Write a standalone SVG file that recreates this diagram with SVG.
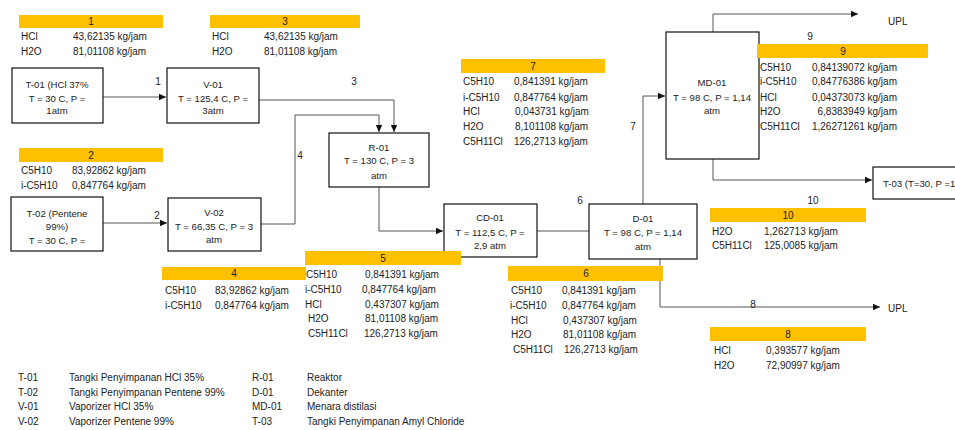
<svg xmlns="http://www.w3.org/2000/svg" width="955" height="430" viewBox="0 0 955 430">
<defs>
<marker id="arr" markerUnits="userSpaceOnUse" markerWidth="8" markerHeight="8" refX="7" refY="4" orient="auto"><path d="M0,0.8 L7,4 L0,7.2 Z" fill="#111"/></marker>
<style>
text{font-family:"Liberation Sans",Arial,sans-serif;fill:#222;font-size:10px}
.bx{fill:#fff;stroke:#111;stroke-width:1.2}
.bt{font-size:9.6px;text-anchor:middle}
.bar{fill:#FFC000}
.bn{text-anchor:middle;font-size:10px}
.c{fill:none;stroke:#555;stroke-width:1}
.a{marker-end:url(#arr)}
.lbl{font-size:10px;text-anchor:middle}
</style>
</defs>
<rect width="955" height="430" fill="#fff"/>

<g id="connectors">
<path class="c a" d="M103,97 H166"/>
<path class="c a" d="M103,223 H167"/>
<path class="c a" d="M259,100 H394 V132"/>
<path class="c a" d="M261,224 H295 V115 H379 V132"/>
<path class="c a" d="M379,187 V231 H443"/>
<path class="c" d="M537,231 H589"/>
<path class="c a" d="M643,204 V96 H665"/>
<path class="c a" d="M713,32 V14 H858"/>
<path class="c a" d="M713,159 V180 H872"/>
<path class="c a" d="M660,259 V307 H880"/>
<text class="lbl" x="158" y="85">1</text>
<text class="lbl" x="157" y="219">2</text>
<text class="lbl" x="354" y="85">3</text>
<text class="lbl" x="300" y="159">4</text>
<text class="lbl" x="580" y="204">6</text>
<text class="lbl" x="633" y="130">7</text>
<text class="lbl" x="753" y="308">8</text>
<text class="lbl" x="810" y="40">9</text>
<text class="lbl" x="813" y="204">10</text>
<text x="888" y="25">UPL</text>
<text x="888" y="312">UPL</text>
</g>

<g id="T-01"><rect class="bx" x="12" y="68" width="91" height="55"/>
<text class="bt" x="57" y="88">T-01 (HCl 37%</text><text class="bt" x="57" y="102">T = 30 C, P =</text><text class="bt" x="57" y="114">1atm</text></g>
<g id="V-01"><rect class="bx" x="167" y="68" width="92" height="55"/>
<text class="bt" x="213" y="88">V-01</text><text class="bt" x="213" y="102">T = 125,4 C, P =</text><text class="bt" x="213" y="114">3atm</text></g>
<g id="T-02"><rect class="bx" x="11" y="197" width="92" height="54"/>
<text class="bt" x="57" y="217">T-02 (Pentene</text><text class="bt" x="57" y="230">99%)</text><text class="bt" x="57" y="244">T = 30 C, P =</text></g>
<g id="V-02"><rect class="bx" x="168" y="198" width="93" height="53"/>
<text class="bt" x="214" y="216">V-02</text><text class="bt" x="214" y="230">T = 66,35 C, P = 3</text><text class="bt" x="214" y="243">atm</text></g>
<g id="R-01"><rect class="bx" x="329" y="133" width="100" height="54"/>
<text class="bt" x="379" y="151">R-01</text><text class="bt" x="379" y="164">T = 130 C, P = 3</text><text class="bt" x="379" y="179">atm</text></g>
<g id="CD-01"><rect class="bx" x="444" y="204" width="93" height="53"/>
<text class="bt" x="490" y="221">CD-01</text><text class="bt" x="490" y="236">T = 112,5 C, P =</text><text class="bt" x="490" y="249">2,9 atm</text></g>
<g id="D-01"><rect class="bx" x="589" y="204" width="108" height="55"/>
<text class="bt" x="643" y="222">D-01</text><text class="bt" x="643" y="236">T = 98 C, P = 1,14</text><text class="bt" x="643" y="250">atm</text></g>
<g id="MD-01"><rect class="bx" x="666" y="32" width="93" height="127"/>
<text class="bt" x="712" y="86">MD-01</text><text class="bt" x="712" y="101">T = 98 C, P = 1,14</text><text class="bt" x="712" y="114">atm</text></g>
<g id="T-03"><rect class="bx" x="873" y="167" width="90" height="32"/>
<text x="883" y="187" style="font-size:9.6px">T-03 (T=30, P =1</text></g>

<g id="stream1"><rect class="bar" x="19" y="15" width="144" height="13"/><text class="bn" x="91" y="25">1</text>
<text x="21" y="40">HCl</text><text x="73" y="40">43,62135 kg/jam</text>
<text x="21" y="55">H2O</text><text x="73" y="55">81,01108 kg/jam</text></g>
<g id="stream3"><rect class="bar" x="210" y="15" width="150" height="13"/><text class="bn" x="285" y="25">3</text>
<text x="212" y="40">HCl</text><text x="264" y="40">43,62135  kg/jam</text>
<text x="212" y="55">H2O</text><text x="264" y="55">81,01108 kg/jam</text></g>
<g id="stream2"><rect class="bar" x="19" y="148" width="144" height="14"/><text class="bn" x="91" y="159">2</text>
<text x="21" y="174">C5H10</text><text x="72" y="174">83,92862 kg/jam</text>
<text x="21" y="189">i-C5H10</text><text x="72" y="189">0,847764 kg/jam</text></g>
<g id="stream4"><rect class="bar" x="162" y="267" width="144" height="13"/><text class="bn" x="234" y="277">4</text>
<text x="165" y="294">C5H10</text><text x="215" y="294">83,92862 kg/jam</text>
<text x="165" y="309">i-C5H10</text><text x="215" y="309">0,847764 kg/jam</text></g>
<g id="stream5"><rect class="bar" x="305" y="251" width="156" height="14"/><text class="bn" x="383" y="262">5</text>
<text x="306" y="278">C5H10</text><text x="365" y="278">0,841391 kg/jam</text>
<text x="305" y="293">i-C5H10</text><text x="362" y="293">0,847764 kg/jam</text>
<text x="305" y="308">HCl</text><text x="365" y="308">0,437307 kg/jam</text>
<text x="308" y="322">H2O</text><text x="365" y="322">81,01108 kg/jam</text>
<text x="308" y="337">C5H11Cl</text><text x="364" y="337">126,2713 kg/jam</text></g>
<g id="stream6"><rect class="bar" x="508" y="266" width="155" height="15"/><text class="bn" x="586" y="277">6</text>
<text x="511" y="294">C5H10</text><text x="562" y="294">0,841391 kg/jam</text>
<text x="510" y="309">i-C5H10</text><text x="562" y="309">0,847764 kg/jam</text>
<text x="511" y="324">HCl</text><text x="563" y="324">0,437307 kg/jam</text>
<text x="511" y="338">H2O</text><text x="563" y="338">81,01108 kg/jam</text>
<text x="513" y="353">C5H11Cl</text><text x="564" y="353">126,2713 kg/jam</text></g>
<g id="stream7"><rect class="bar" x="461" y="59" width="144" height="14"/><text class="bn" x="533" y="70">7</text>
<text x="463" y="85">C5H10</text><text x="514" y="85">0,841391 kg/jam</text>
<text x="463" y="101">i-C5H10</text><text x="514" y="101">0,847764 kg/jam</text>
<text x="463" y="115">HCl</text><text x="515" y="115">0,043731 kg/jam</text>
<text x="463" y="130">H2O</text><text x="515" y="130">8,101108 kg/jam</text>
<text x="463" y="145">C5H11Cl</text><text x="514" y="145">126,2713 kg/jam</text></g>
<g id="stream9"><rect class="bar" x="757" y="44" width="171" height="14"/><text class="bn" x="843" y="55">9</text>
<text x="760" y="71">C5H10</text><text x="897" y="71" text-anchor="end">0,84139072 kg/jam</text>
<text x="760" y="85">i-C5H10</text><text x="897" y="85" text-anchor="end">0,84776386 kg/jam</text>
<text x="760" y="101">HCl</text><text x="897" y="101" text-anchor="end">0,04373073 kg/jam</text>
<text x="760" y="115">H2O</text><text x="897" y="115" text-anchor="end">6,8383949 kg/jam</text>
<text x="760" y="130">C5H11Cl</text><text x="897" y="130" text-anchor="end">1,26271261 kg/jam</text></g>
<g id="stream10"><rect class="bar" x="710" y="208" width="156" height="14"/><text class="bn" x="788" y="219">10</text>
<text x="712" y="235">H2O</text><text x="764" y="235">1,262713 kg/jam</text>
<text x="712" y="249">C5H11Cl</text><text x="764" y="249">125,0085 kg/jam</text></g>
<g id="stream8"><rect class="bar" x="710" y="327" width="156" height="14"/><text class="bn" x="788" y="338">8</text>
<text x="714" y="354">HCl</text><text x="766" y="354">0,393577 kg/jam</text>
<text x="714" y="369">H2O</text><text x="766" y="369">72,90997 kg/jam</text></g>

<g id="legend">
<text x="18" y="381">T-01</text><text x="69" y="381">Tangki Penyimpanan HCl 35%</text>
<text x="18" y="396">T-02</text><text x="69" y="396">Tangki Penyimpanan Pentene 99%</text>
<text x="18" y="410">V-01</text><text x="69" y="410">Vaporizer HCl 35%</text>
<text x="18" y="425">V-02</text><text x="69" y="425">Vaporizer Pentene 99%</text>
<text x="252" y="381">R-01</text><text x="307" y="381">Reaktor</text>
<text x="252" y="396">D-01</text><text x="307" y="396">Dekanter</text>
<text x="252" y="410">MD-01</text><text x="307" y="410">Menara distilasi</text>
<text x="252" y="425">T-03</text><text x="307" y="425">Tangki Penyimpanan Amyl Chloride</text>
</g>
</svg>
